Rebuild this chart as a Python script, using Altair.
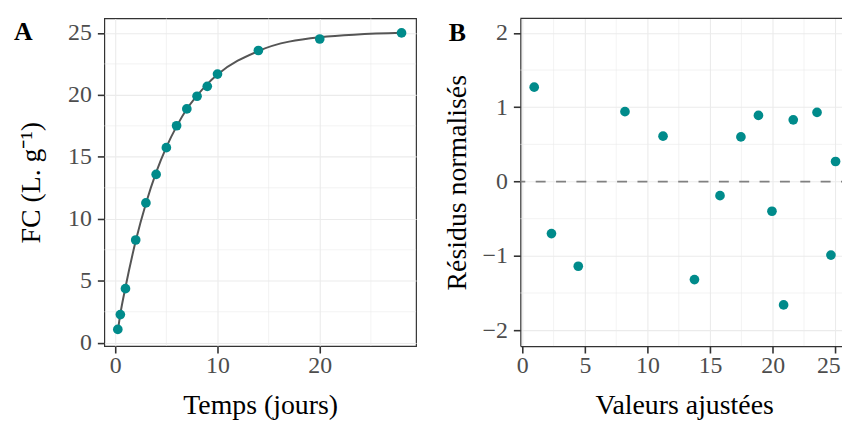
import altair as alt
import pandas as pd

# ---- data ----
temps = [0.25, 0.5, 1, 2, 3, 4, 5, 6, 7, 8, 9, 10, 14, 20, 28]
fc_obs = [1.07, 2.27, 4.36, 8.29, 11.28, 13.58, 15.74, 17.51, 18.87, 19.89, 20.69, 21.68, 23.58, 24.51, 25.0]
fc_fit = [0.95, 2.33, 4.47, 8.20, 11.24, 13.75, 15.79, 17.46, 18.86, 19.94, 20.87, 21.64, 23.54, 24.65, 25.02]
residus = [1.27, -0.70, -1.14, 0.94, 0.61, -1.32, -0.19, 0.60, 0.89, -0.40, -1.66, 0.83, 0.93, -0.99, 0.27]

ticks_A_x = [0, 10, 20]
minor_A_x = [5, 15, 25]
ticks_A_y = [0, 5, 10, 15, 20, 25]
minor_A_y = [2.5, 7.5, 12.5, 17.5, 22.5]
ticks_B_x = [0, 5, 10, 15, 20, 25]
minor_B_x = [2.5, 7.5, 12.5, 17.5, 22.5]
ticks_B_y = [-2, -1, 0, 1, 2]
minor_B_y = [-1.5, -0.5, 0.5, 1.5]

FONT = "Liberation Serif"
TEAL = "#008B8B"
GRID = "#EBEBEB"
DARK = "#333333"
W_A, W_B, H = 314, 330, 330


def axis(values, title, title_pad, label_pad, domain=False, **kw):
    return alt.Axis(
        values=values, title=title, grid=True, gridColor=GRID, gridWidth=1.1,
        domain=domain, domainColor=DARK, domainWidth=1.2,
        ticks=True, tickColor=DARK, tickSize=7, tickWidth=1.6,
        labelFont=FONT, labelFontSize=24, labelColor="#4D4D4D",
        labelPadding=label_pad, labelFlush=False, labelOverlap=False,
        titleFont=FONT, titleFontSize=28, titleFontWeight="normal",
        titleColor="black", titlePadding=title_pad, **kw,
    )


def label(txt, dx, dy):
    return alt.Chart(pd.DataFrame({"lab": [txt]})).mark_text(
        font=FONT, fontSize=26, fontWeight="bold", color="black",
        align="left", baseline="alphabetic").encode(
        text="lab:N", x=alt.value(dx), y=alt.value(dy))


# ---- panel A ----
dfA = pd.DataFrame({"t": temps, "obs": fc_obs, "fit": fc_fit})
xA = alt.Scale(domain=[-1.07, 29.42], nice=False, zero=False)
yA = alt.Scale(domain=[-0.27, 26.17], nice=False, zero=False)
axA_x = axis(ticks_A_x, "Temps (jours)", 14, 1)
axA_y = axis(ticks_A_y, "FC (L. g⁻¹)", 22, 6)

vA = alt.Chart(pd.DataFrame({"v": minor_A_x})).mark_rule(color=GRID, strokeWidth=0.6).encode(
    x=alt.X("v:Q", scale=xA, axis=axA_x))
hA = alt.Chart(pd.DataFrame({"v": minor_A_y})).mark_rule(color=GRID, strokeWidth=0.6).encode(
    y=alt.Y("v:Q", scale=yA, axis=axA_y))
lineA = alt.Chart(dfA).mark_line(color="#555555", strokeWidth=2, interpolate="monotone").encode(
    x=alt.X("t:Q", scale=xA, axis=axA_x),
    y=alt.Y("fit:Q", scale=yA, axis=axA_y),
)
ptsA = alt.Chart(dfA).mark_circle(color=TEAL, size=95, opacity=1).encode(
    x=alt.X("t:Q", scale=xA, axis=axA_x), y=alt.Y("obs:Q", scale=yA, axis=axA_y))

panelA = alt.layer(vA, hA, lineA, ptsA, label("A", -91, 22)).properties(
    width=W_A, height=H, view=alt.ViewBackground(stroke=DARK, strokeWidth=1.2))

# ---- panel B ----
dfB = pd.DataFrame({"fit": fc_fit, "res": residus})
xB = alt.Scale(domain=[-0.159, 26.01], nice=False, zero=False)
yB = alt.Scale(domain=[-2.214, 2.195], nice=False, zero=False)
axB_x = axis(ticks_B_x, "Valeurs ajustées", 14, 1, domain=True,
             labelOffset={"condition": {"test": "datum.value == 25", "value": -7}, "value": 0})
axB_y = axis(ticks_B_y, "Résidus normalisés", 11, 6, domain=True)

vB = alt.Chart(pd.DataFrame({"v": minor_B_x})).mark_rule(color=GRID, strokeWidth=0.6).encode(
    x=alt.X("v:Q", scale=xB, axis=axB_x))
hB = alt.Chart(pd.DataFrame({"v": minor_B_y})).mark_rule(color=GRID, strokeWidth=0.6).encode(
    y=alt.Y("v:Q", scale=yB, axis=axB_y))
zeroB = alt.Chart(pd.DataFrame({"z": [0]})).mark_rule(
    color="#808080", strokeWidth=1.8, strokeDash=[10, 10.5], strokeDashOffset=3).encode(
    y=alt.Y("z:Q", scale=yB, axis=axB_y))
topB = alt.Chart(pd.DataFrame({"k": [0]})).mark_rule(color=DARK, strokeWidth=1.2).encode(
    y=alt.value(0), x=alt.value(0), x2=alt.value(W_B))
ptsB = alt.Chart(dfB).mark_circle(color=TEAL, size=95, opacity=1).encode(
    x=alt.X("fit:Q", scale=xB, axis=axB_x),
    y=alt.Y("res:Q", scale=yB, axis=axB_y),
)

panelB = alt.layer(vB, hB, zeroB, topB, ptsB, label("B", -72, 23)).properties(
    width=W_B, height=H, view=alt.ViewBackground(stroke="transparent"))

chart = alt.hconcat(panelA, panelB, spacing=25).properties(
    padding={"left": 5, "top": 7, "right": -8, "bottom": 0},
    background="white",
)

chart.save("out.html", embed_options={"renderer": "svg", "actions": False})
